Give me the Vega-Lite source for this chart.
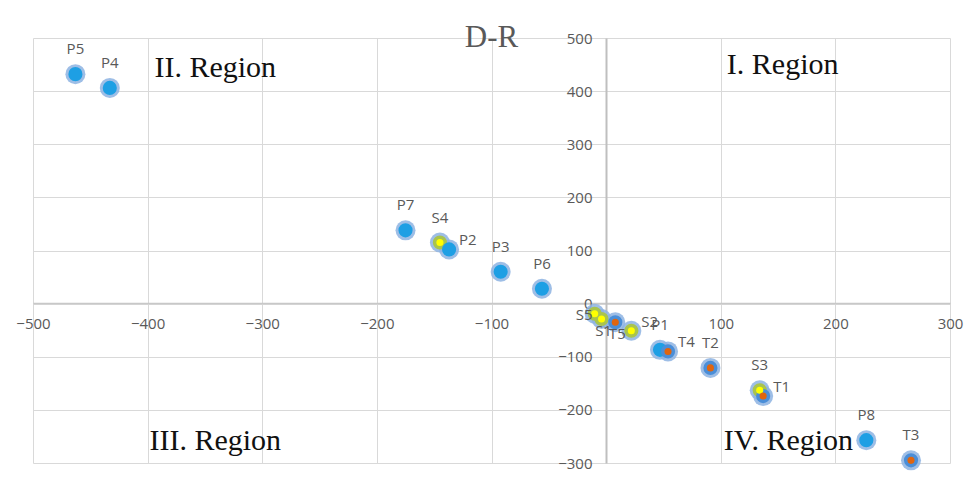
{
  "$schema": "https://vega.github.io/schema/vega-lite/v6.json",
  "width": 917,
  "height": 425,
  "autosize": {"type": "none"},
  "padding": {"left": 33, "top": 38, "right": 27, "bottom": 23},
  "background": "white",
  "title": {"text": "D-R", "font": "Liberation Serif", "fontSize": 31, "fontWeight": "normal", "color": "#595959", "anchor": "middle", "frame": "group", "baseline": "alphabetic", "offset": -47},
  "datasets": {
    "pts": [
      {"name": "P5", "group": "P", "x": -463, "y": 432},
      {"name": "P4", "group": "P", "x": -433, "y": 406},
      {"name": "P7", "group": "P", "x": -175, "y": 138},
      {"name": "S4", "group": "S", "x": -145, "y": 115},
      {"name": "P2", "group": "P", "x": -137, "y": 102},
      {"name": "P3", "group": "P", "x": -92, "y": 60},
      {"name": "P6", "group": "P", "x": -56, "y": 28},
      {"name": "S5", "group": "S", "x": -10, "y": -19},
      {"name": "S1", "group": "S", "x": -4, "y": -29},
      {"name": "T5", "group": "T", "x": 8, "y": -35},
      {"name": "S2", "group": "S", "x": 22, "y": -51},
      {"name": "P1", "group": "P", "x": 47, "y": -87},
      {"name": "T4", "group": "T", "x": 54, "y": -90},
      {"name": "T2", "group": "T", "x": 91, "y": -121},
      {"name": "S3", "group": "S", "x": 134, "y": -163},
      {"name": "T1", "group": "T", "x": 137, "y": -174},
      {"name": "P8", "group": "P", "x": 227, "y": -257},
      {"name": "T3", "group": "T", "x": 266, "y": -295}
    ],
    "regions": [
      {"label": "I. Region", "x": 154, "y": 449},
      {"label": "II. Region", "x": -341, "y": 443},
      {"label": "III. Region", "x": -341, "y": -258},
      {"label": "IV. Region", "x": 159, "y": -258}
    ]
  },
  "layer": [
    {
      "data": {"name": "pts"},
      "mark": {"type": "point", "shape": "circle", "filled": true, "size": 400, "color": "#8DB3E2", "opacity": 0.85},
      "encoding": {
        "x": {"field": "x", "type": "quantitative", "scale": {"domain": [-500, 300], "nice": false},
          "axis": {"orient": "bottom", "offset": -160, "values": [-500, -400, -300, -200, -100, 0, 100, 200, 300], "title": null,
            "grid": true, "gridColor": "#D9D9D9", "gridWidth": 1, "domainColor": "#C8C8C8", "domainWidth": 1.5, "ticks": false,
            "labelFont": "Open Sans", "labelFontSize": 15, "labelColor": "#595959", "labelPadding": 13, "labelFlush": false, "labelOverlap": false}},
        "y": {"field": "y", "type": "quantitative", "scale": {"domain": [-300, 500], "nice": false},
          "axis": {"orient": "left", "offset": -573, "values": [-300, -200, -100, 0, 100, 200, 300, 400, 500], "title": null,
            "grid": true, "gridColor": "#D9D9D9", "gridWidth": 1, "domainColor": "#BFBFBF", "domainWidth": 2, "ticks": false,
            "labelFont": "Open Sans", "labelFontSize": 15, "labelColor": "#595959", "labelPadding": 14, "labelFlush": false, "labelOverlap": false}}
      }
    },
    {
      "data": {"name": "pts"},
      "mark": {"type": "point", "shape": "circle", "filled": true, "size": 200, "opacity": 1},
      "encoding": {
        "x": {"field": "x", "type": "quantitative"},
        "y": {"field": "y", "type": "quantitative"},
        "color": {"field": "group", "type": "nominal", "scale": {"domain": ["P", "S", "T"], "range": ["#1E9FE4", "#A9C44E", "#4A8ED8"]}, "legend": null}
      }
    },
    {
      "data": {"name": "pts"},
      "transform": [{"filter": "datum.group === 'S'"}],
      "mark": {"type": "point", "shape": "circle", "filled": true, "size": 50, "opacity": 1, "color": "#FFFF00"},
      "encoding": {
        "x": {"field": "x", "type": "quantitative"},
        "y": {"field": "y", "type": "quantitative"}
      }
    },
    {
      "data": {"name": "pts"},
      "transform": [{"filter": "datum.group === 'T'"}],
      "mark": {"type": "point", "shape": "circle", "filled": true, "size": 50, "opacity": 1, "color": "#E0650E"},
      "encoding": {
        "x": {"field": "x", "type": "quantitative"},
        "y": {"field": "y", "type": "quantitative"}
      }
    },
    {
      "data": {"name": "pts"},
      "transform": [{"filter": "indexof(['P5','P4','P7','S4','P3','P6','P1','T2','S3','P8','T3'], datum.name) >= 0"}],
      "mark": {"type": "text", "font": "Open Sans", "fontSize": 15, "color": "#595959", "align": "center", "baseline": "middle", "dy": -25},
      "encoding": {
        "x": {"field": "x", "type": "quantitative"},
        "y": {"field": "y", "type": "quantitative"},
        "text": {"field": "name"}
      }
    },
    {
      "data": {"name": "pts"},
      "transform": [{"filter": "indexof(['P2','S2','T4','T1'], datum.name) >= 0"}],
      "mark": {"type": "text", "font": "Open Sans", "fontSize": 15, "color": "#595959", "align": "left", "baseline": "middle", "dx": 10, "dy": -9},
      "encoding": {
        "x": {"field": "x", "type": "quantitative"},
        "y": {"field": "y", "type": "quantitative"},
        "text": {"field": "name"}
      }
    },
    {
      "data": {"name": "pts"},
      "transform": [{"filter": "datum.name === 'S5'"}],
      "mark": {"type": "text", "font": "Open Sans", "fontSize": 15, "color": "#595959", "align": "right", "baseline": "middle", "dx": -2, "dy": 1},
      "encoding": {
        "x": {"field": "x", "type": "quantitative"},
        "y": {"field": "y", "type": "quantitative"},
        "text": {"field": "name"}
      }
    },
    {
      "data": {"name": "pts"},
      "transform": [{"filter": "datum.name === 'S1' || datum.name === 'T5'"}],
      "mark": {"type": "text", "font": "Open Sans", "fontSize": 15, "color": "#595959", "align": "center", "baseline": "middle", "dx": 2, "dy": 12},
      "encoding": {
        "x": {"field": "x", "type": "quantitative"},
        "y": {"field": "y", "type": "quantitative"},
        "text": {"field": "name"}
      }
    },
    {
      "data": {"name": "regions"},
      "mark": {"type": "text", "font": "Liberation Serif", "fontSize": 30, "color": "#111111", "align": "center", "baseline": "middle"},
      "encoding": {
        "x": {"field": "x", "type": "quantitative"},
        "y": {"field": "y", "type": "quantitative"},
        "text": {"field": "label"}
      }
    }
  ],
  "config": {"view": {"stroke": null}}
}
